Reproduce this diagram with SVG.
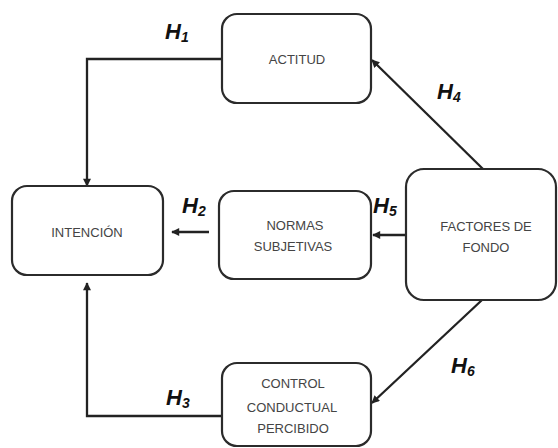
<svg xmlns="http://www.w3.org/2000/svg" width="558" height="448" viewBox="0 0 558 448">
  <style>
    .box { fill: #ffffff; stroke: #2b2b2b; stroke-width: 2.2; }
    .lbl { font-family: "Liberation Sans", Arial, sans-serif; font-size: 13px; fill: #444444; text-anchor: middle; }
    .link { fill: none; stroke: #222222; stroke-width: 2.3; marker-end: url(#head); }
    .hyp { font-family: "Liberation Sans", Arial, sans-serif; font-size: 22px; font-weight: bold; font-style: italic; fill: #111111; }
    .sub { font-size: 14px; }
  </style>
  <defs>
    <marker id="head" viewBox="0 0 10 10" refX="9" refY="5" markerWidth="9" markerHeight="8" markerUnits="userSpaceOnUse" orient="auto">
      <path d="M0,0 L10,5 L0,10 Z" fill="#222222"/>
    </marker>
  </defs>
  <rect width="558" height="448" fill="#ffffff"/>

  <g id="connectors">
    <polyline class="link" points="222,59 87,59 87,186"/>
    <line class="link" x1="209" y1="232" x2="172" y2="232"/>
    <polyline class="link" points="222,416 87,416 87,283"/>
    <line class="link" x1="483" y1="169" x2="372" y2="60"/>
    <line class="link" x1="406" y1="235" x2="373" y2="235"/>
    <line class="link" x1="482" y1="300" x2="372" y2="403"/>
  </g>

  <g id="hypotheses">
    <text class="hyp" x="165" y="39">H<tspan class="sub" dy="3">1</tspan></text>
    <text class="hyp" x="182" y="213">H<tspan class="sub" dy="3">2</tspan></text>
    <text class="hyp" x="166" y="405">H<tspan class="sub" dy="3">3</tspan></text>
    <text class="hyp" x="437" y="99">H<tspan class="sub" dy="3">4</tspan></text>
    <text class="hyp" x="373" y="213">H<tspan class="sub" dy="3">5</tspan></text>
    <text class="hyp" x="451" y="373">H<tspan class="sub" dy="3">6</tspan></text>
  </g>

  <g id="actitud">
    <rect class="box" x="222" y="14" width="149" height="89" rx="15"/>
    <text class="lbl" x="297" y="64">ACTITUD</text>
  </g>

  <g id="intencion">
    <rect class="box" x="12" y="186" width="151" height="89" rx="15"/>
    <text class="lbl" x="87" y="237">INTENCIÓN</text>
  </g>

  <g id="normas">
    <rect class="box" x="219" y="191" width="152" height="88" rx="15"/>
    <text class="lbl" x="295" y="230">NORMAS</text>
    <text class="lbl" x="293" y="251">SUBJETIVAS</text>
  </g>

  <g id="factores">
    <rect class="box" x="406" y="169" width="150" height="131" rx="18"/>
    <text class="lbl" x="486" y="231">FACTORES DE</text>
    <text class="lbl" x="486" y="252">FONDO</text>
  </g>

  <g id="control">
    <rect class="box" x="222" y="363" width="149" height="83" rx="15"/>
    <text class="lbl" x="293" y="388">CONTROL</text>
    <text class="lbl" x="292" y="412">CONDUCTUAL</text>
    <text class="lbl" x="293" y="433">PERCIBIDO</text>
  </g>
</svg>
